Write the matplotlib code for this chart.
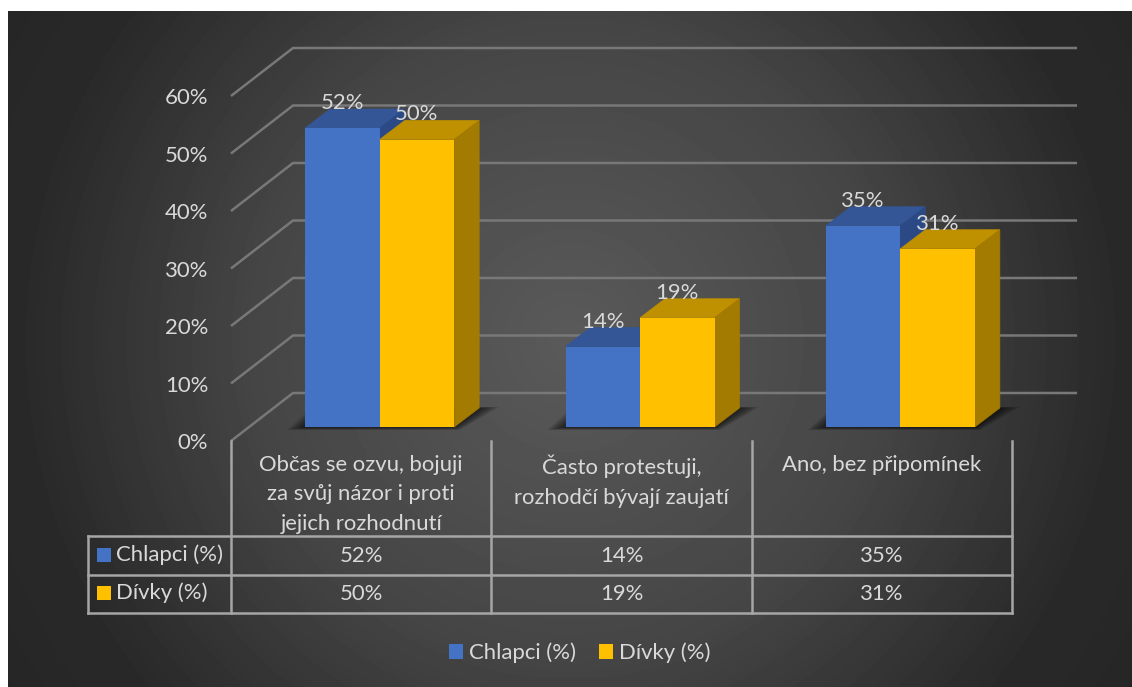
import numpy as np
import matplotlib
matplotlib.use("Agg")
import matplotlib.pyplot as plt
from matplotlib.patches import Polygon, Rectangle

plt.rcParams["font.family"] = ["Lato", "DejaVu Sans"]

categories = [
    "Občas se ozvu, bojuji\nza svůj názor i proti\njejich rozhodnutí",
    "Často protestuji,\nrozhodčí bývají zaujatí",
    "Ano, bez připomínek",
]
series_names = ["Chlapci (%)", "Dívky (%)"]
chlapci = [52, 14, 35]
divky = [50, 19, 31]
y_ticks = [0, 10, 20, 30, 40, 50, 60]

# blue / yellow: front, top, side
BLUE = ("#4472c4", "#345696", "#2b4a85")
YELLOW = ("#ffc000", "#bf9000", "#a37b00")
TEXT = "#d9d9d9"
GRID = "#787878"
TABLE = "#a6a6a6"

W, H = 1132, 687
# plot box in pixels, one x unit is one category
X0, X1, Y0, Y60 = 231, 1012, 441, 96
UX = (X1 - X0) / 3
UY = (Y0 - Y60) / 60

WALL_DX, WALL_DY = 62 / UX, 48 / UY
PLANE_DX, PLANE_DY = 18.5 / UX, 14 / UY
DEPTH_DX, DEPTH_DY = 25 / UX, 19 / UY
BAR_W = 74.5 / UX
FS = 15.9


def row_y(px):
    return (Y0 - px) / UY


def col_x(px):
    return (px - X0) / UX


fig = plt.figure(figsize=(W / 100, H / 100), dpi=100, facecolor="white")

# background panel
bg = fig.add_axes([8 / W, 0, (W - 8) / W, (H - 11) / H])
yy, xx = np.mgrid[11:H, 8:W]
r = np.hypot(xx - 570, yy - 340)
shade = np.interp(r, [0, 320, 540, 680], [90, 69, 42, 37]) / 255
bg.imshow(shade, cmap="gray", vmin=0, vmax=1, aspect="auto", interpolation="bilinear")
bg.axis("off")

ax = fig.add_axes([X0 / W, (H - Y0) / H, (X1 - X0) / W, (Y0 - Y60) / H])
ax.patch.set_alpha(0)
ax.set_xlim(0, 3)
ax.set_ylim(0, 60)
for s in ax.spines.values():
    s.set_visible(False)
ax.set_xticks([])
ax.set_yticks(y_ticks)
ax.set_yticklabels([f"{t}%" for t in y_ticks], fontsize=FS, color=TEXT)
ax.tick_params(axis="y", length=0, pad=16.5)

# floor and wall gridlines
for t in y_ticks:
    ax.plot([0, WALL_DX, 3.25], [t, t + WALL_DY, t + WALL_DY], color=GRID, lw=1.8,
            clip_on=False, zorder=1, solid_capstyle="butt", solid_joinstyle="miter")

x = np.arange(3)
base = PLANE_DY
left_a = x + 0.5 + PLANE_DX - BAR_W
left_b = x + 0.5 + PLANE_DX


def add_box(left, value, colors, z):
    top = base + value
    right = left + BAR_W
    ax.add_patch(Polygon([(left, top), (right, top), (right + DEPTH_DX, top + DEPTH_DY),
                          (left + DEPTH_DX, top + DEPTH_DY)], fc=colors[1], ec=colors[1],
                         lw=0.5, clip_on=False, zorder=z))
    ax.add_patch(Polygon([(right, base), (right + DEPTH_DX, base + DEPTH_DY),
                          (right + DEPTH_DX, top + DEPTH_DY), (right, top)], fc=colors[2],
                         ec=colors[2], lw=0.5, clip_on=False, zorder=z))


# soft shadow on the floor
for i in range(3):
    lft, rgt = left_a[i], left_b[i] + BAR_W
    for grow in np.linspace(1, 0, 8):
        gx, gy = grow * 18 / UX, grow * 3 / UY
        ax.add_patch(Polygon([(lft - gx, base - gy), (rgt + gx * 0.3, base - gy),
                              (rgt + DEPTH_DX + gx * 1.1, base + DEPTH_DY + gy * 0.3),
                              (lft + DEPTH_DX - gx, base + DEPTH_DY + gy * 0.3)],
                             fc="black", ec="none", alpha=0.11, clip_on=False, zorder=2))

for i in range(3):
    add_box(left_a[i], chlapci[i], BLUE, 3 + i * 0.1)
    add_box(left_b[i], divky[i], YELLOW, 3.5 + i * 0.1)

ax.bar(left_a, chlapci, BAR_W, bottom=base, align="edge", color=BLUE[0], clip_on=False, zorder=3.3)
ax.bar(left_b, divky, BAR_W, bottom=base, align="edge", color=YELLOW[0], clip_on=False, zorder=3.8)

for i in range(3):
    ax.text(left_a[i] + BAR_W / 2, base + chlapci[i] + 25 / UY, f"{chlapci[i]}%", ha="center",
            va="center", fontsize=FS, color=TEXT, zorder=6)
    ax.text(left_b[i] + BAR_W / 2, base + divky[i] + 25 / UY, f"{divky[i]}%", ha="center",
            va="center", fontsize=FS, color=TEXT, zorder=6)

# data table under the plot
row_lines = [row_y(536), row_y(574.5), row_y(613)]
for xc in [0, 1, 2, 3]:
    ax.plot([xc, xc], [0, row_lines[-1]], color=TABLE, lw=1.8, clip_on=False, zorder=2,
            solid_capstyle="projecting")
left_edge = col_x(88)
ax.plot([left_edge, left_edge], [row_lines[0], row_lines[-1]], color=TABLE, lw=1.8,
        clip_on=False, solid_capstyle="projecting")
for yl in row_lines:
    ax.plot([left_edge, 3], [yl, yl], color=TABLE, lw=1.8, clip_on=False,
            solid_capstyle="projecting")

for i, cat in enumerate(categories):
    ax.text(i + 0.5, row_y(455), cat, ha="center", va="top", fontsize=FS, color=TEXT,
            linespacing=1.58)
    ax.text(i + 0.5, row_y(556), f"{chlapci[i]}%", ha="center", va="center", fontsize=FS, color=TEXT)
    ax.text(i + 0.5, row_y(594), f"{divky[i]}%", ha="center", va="center", fontsize=FS, color=TEXT)

for name, color, yc in zip(series_names, [BLUE[0], YELLOW[0]], [555, 593]):
    ax.add_patch(Rectangle((col_x(97), row_y(yc + 7)), 14 / UX, 14 / UY, fc=color, ec="none",
                           clip_on=False))
    ax.text(col_x(116), row_y(yc), name, ha="left", va="center", fontsize=FS, color=TEXT)

# legend at the bottom
handles = [Rectangle((0, 0), 1, 1, fc=BLUE[0], ec="none"), Rectangle((0, 0), 1, 1, fc=YELLOW[0], ec="none")]
fig.legend(handles, series_names, ncol=2, frameon=False, fontsize=FS, labelcolor=TEXT,
           loc="center", bbox_to_anchor=(580 / W, (H - 653) / H), handlelength=0.63, handleheight=0.63,
           handletextpad=0.27, columnspacing=1.05)

fig.savefig("out.png", dpi=100, facecolor="white")
